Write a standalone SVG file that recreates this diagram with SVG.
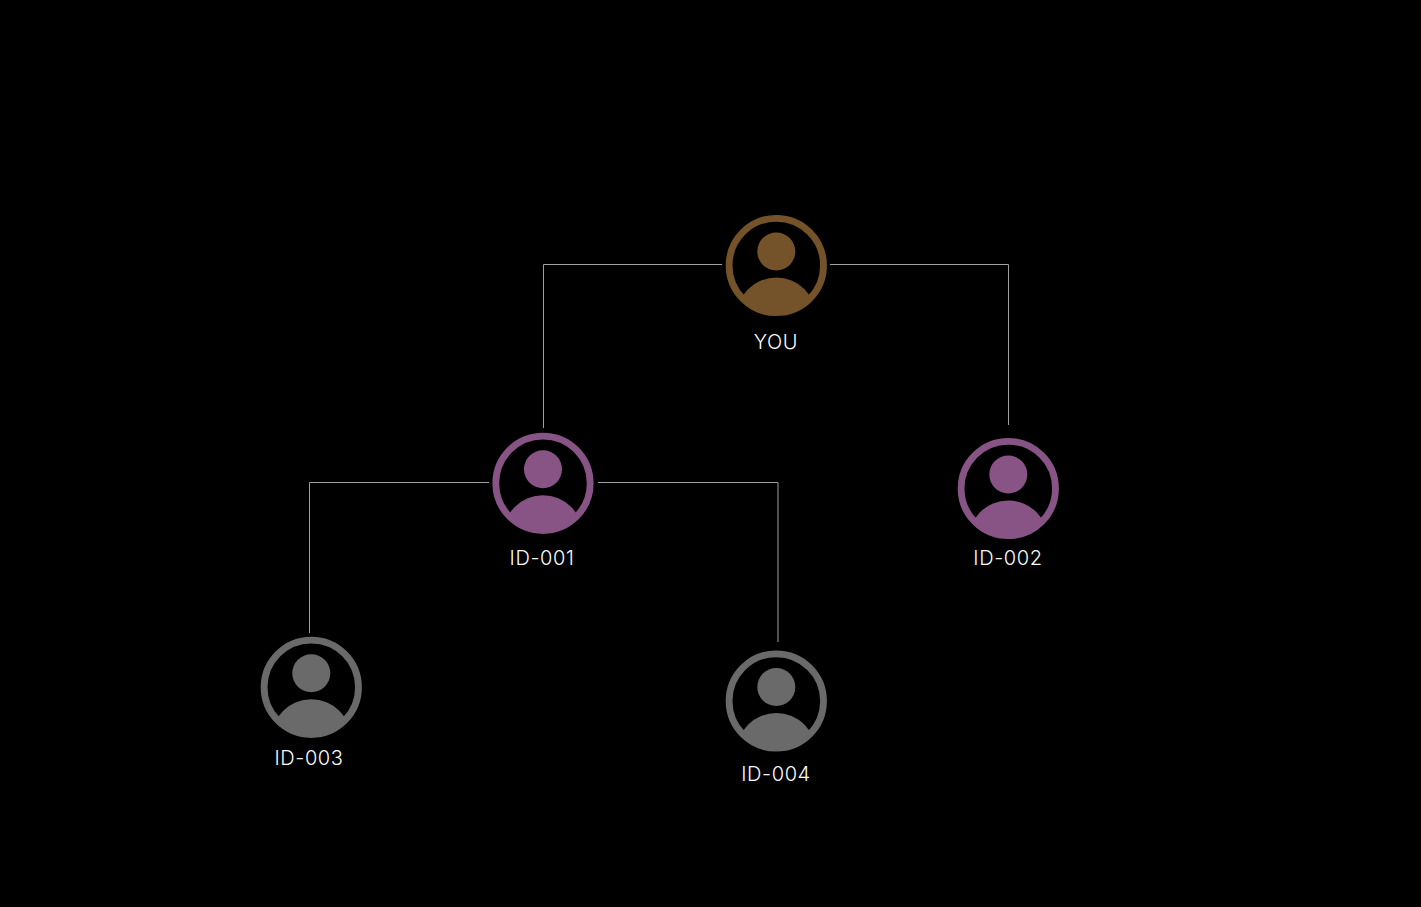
<svg xmlns="http://www.w3.org/2000/svg" width="1421" height="907" viewBox="0 0 1421 907">
<style>
.lbl{font-family:Inter,"Liberation Sans",sans-serif;font-size:20px;font-weight:300;fill:#fff;text-anchor:middle;letter-spacing:.6px;opacity:.99}
.wire{fill:none;stroke:#a0a0a0;stroke-width:1}
.you{color:#75532a}.peer{color:#885486}.leaf{color:#6a6a6a}
</style>
<defs>
<clipPath id="inner"><circle cx="0" cy="0" r="47"/></clipPath>
<g id="avatar">
<circle cx="0" cy="0" r="47.200" fill="none" stroke="currentColor" stroke-width="6.800"/>
<circle cx="0" cy="-14" r="19" fill="currentColor"/>
<circle cx="0" cy="52" r="40" fill="currentColor" clip-path="url(#inner)"/>
</g>
</defs>
<rect width="1421" height="907" fill="#000"/>
<g id="connectors" class="wire">
<path d="M722 264.500H543.500V428"/>
<path d="M830 264.500H1008.500V425"/>
<path d="M489 482.500H309.500V633"/>
<path d="M598 482.500H778V642"/>
</g>
<g id="you"><use href="#avatar" x="776.300" y="265.500" class="you"/><text x="776" y="348.500" class="lbl">YOU</text></g>
<g id="id-001"><use href="#avatar" x="543" y="483.300" class="peer"/><text x="542" y="564.500" class="lbl">ID-001</text></g>
<g id="id-002"><use href="#avatar" x="1008.300" y="488.500" class="peer"/><text x="1008" y="564.500" class="lbl">ID-002</text></g>
<g id="id-003"><use href="#avatar" x="311.300" y="687.300" class="leaf"/><text x="309" y="764.500" class="lbl">ID-003</text></g>
<g id="id-004"><use href="#avatar" x="776.300" y="701" class="leaf"/><text x="776" y="780.500" class="lbl">ID-004</text></g>
</svg>
